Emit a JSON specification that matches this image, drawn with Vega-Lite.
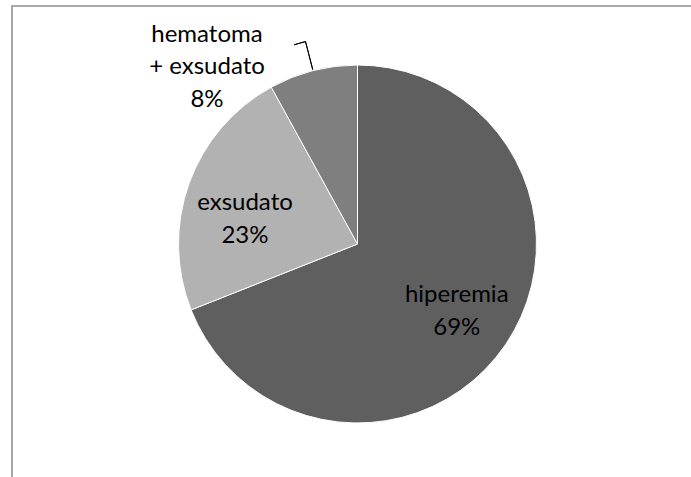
{
  "$schema": "https://vega.github.io/schema/vega-lite/v6.json",
  "usermeta": {"embedOptions": {"actions": false}},
  "autosize": {"type": "none"},
  "padding": {"left": 12, "top": 6, "right": -12, "bottom": -5},
  "width": 691,
  "height": 476,
  "background": "white",
  "view": {"stroke": "#8a8a8a", "strokeWidth": 1.5},
  "config": {
    "view": {"stroke": "#8a8a8a", "strokeWidth": 1.5},
    "text": {"font": "Lato", "fontSize": 24, "lineHeight": 32.5, "lineBreak": "\n", "fill": "#000000", "align": "center", "baseline": "middle"}
  },
  "data": {
    "values": [
      {"cat": "hiperemia", "value": 69, "label": "hiperemia\n69%"},
      {"cat": "exsudato", "value": 23, "label": "exsudato\n23%"},
      {"cat": "hematoma + exsudato", "value": 8, "label": "hematoma\n+ exsudato\n8%"}
    ]
  },
  "encoding": {
    "theta": {"field": "value", "type": "quantitative", "stack": true},
    "order": {"field": "value", "type": "quantitative", "sort": "descending"}
  },
  "layer": [
    {
      "mark": {"type": "arc", "radius": 179, "stroke": "#ffffff", "strokeWidth": 1},
      "encoding": {
        "color": {
          "field": "cat",
          "type": "nominal",
          "scale": {"domain": ["hiperemia", "exsudato", "hematoma + exsudato"], "range": ["#5f5f5f", "#b2b2b2", "#7f7f7f"]},
          "legend": null
        }
      }
    },
    {
      "mark": {"type": "text", "radius": 120, "dy": -16},
      "encoding": {
        "detail": {"field": "cat", "type": "nominal"},
        "text": {"condition": {"test": "datum.cat === 'hiperemia'", "field": "label", "type": "nominal"}, "value": ""}
      }
    },
    {
      "mark": {"type": "text", "radius": 119.6, "dy": 0},
      "encoding": {
        "detail": {"field": "cat", "type": "nominal"},
        "text": {"condition": {"test": "datum.cat === 'exsudato'", "field": "label", "type": "nominal"}, "value": ""}
      }
    },
    {
      "mark": {"type": "text", "radius": 183, "dx": -105, "dy": -32},
      "encoding": {
        "detail": {"field": "cat", "type": "nominal"},
        "text": {"condition": {"test": "datum.cat === 'hematoma + exsudato'", "field": "label", "type": "nominal"}, "value": ""}
      }
    },
    {
      "data": {"values": [{"leader": "hematoma + exsudato", "at": 96, "tail": 95.1}]},
      "mark": {"type": "arc", "radius": 180, "radius2": 209, "fill": null, "filled": false, "stroke": "#000000", "strokeWidth": 1},
      "encoding": {
        "theta": {"field": "at", "type": "quantitative", "stack": null},
        "theta2": {"field": "at"},
        "order": null
      }
    },
    {
      "data": {"values": [{"leader": "hematoma + exsudato", "at": 96, "tail": 95.1}]},
      "mark": {"type": "arc", "radius": 209, "radius2": 209, "fill": null, "filled": false, "stroke": "#000000", "strokeWidth": 1},
      "encoding": {
        "theta": {"field": "tail", "type": "quantitative", "stack": null},
        "theta2": {"field": "at"},
        "order": null
      }
    }
  ]
}
